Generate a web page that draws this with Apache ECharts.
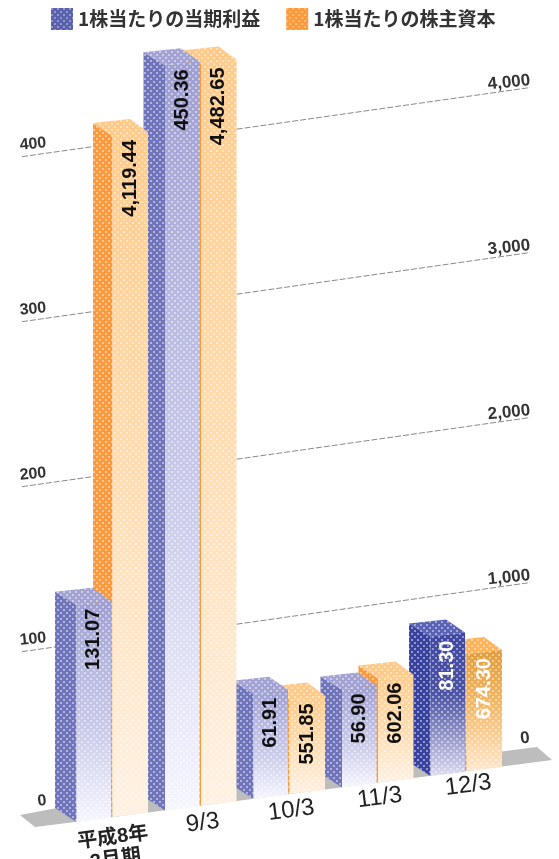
<!DOCTYPE html>
<html><head><meta charset="utf-8">
<style>html,body{margin:0;padding:0;background:#fff;overflow:hidden}#c{width:559px;height:859px;filter:blur(.75px)}</style>
<script src="https://cdn.jsdelivr.net/npm/echarts@6/dist/echarts.min.js"></script></head>
<body><div id="c"></div>
<script>
const categories = ['平成8年\n3月期','9/3','10/3','11/3','12/3'];
const profitName = '1株当たりの当期利益';
const equityName = '1株当たりの株主資本';
const profit = [131.07,450.36,61.91,56.90,81.30];
const equity = [4119.44,4482.65,551.85,602.06,674.30];
const profitLabels = ['131.07','450.36','61.91','56.90','81.30'];
const equityLabels = ['4,119.44','4,482.65','551.85','602.06','674.30'];
const leftTicks = [0,100,200,300,400];
const rightTicks = [0,1000,2000,3000,4000];
const rightTickLabels = ['0','1,000','2,000','3,000','4,000'];

const SLOPE = -0.142, BASE_SLOPE = -0.13, ORIGIN_X = 55, LATEST = 4;
const skew = x => SLOPE*(x-ORIGIN_X);
const skewBase = x => BASE_SLOPE*(x-ORIGIN_X);
function tile(base, dot, alpha){
  const c=document.createElement('canvas');c.width=c.height=6;
  const g=c.getContext('2d');
  if(base){g.fillStyle=base;g.fillRect(0,0,6,6);}
  g.fillStyle=dot;g.globalAlpha=alpha;
  g.fillRect(0,0,2,2);g.fillRect(3,3,2,2);
  return {image:c,repeat:'repeat'};
}
const dots = tile(null,'#ffffff',0.45);
const grad = stops => new echarts.graphic.LinearGradient(0,0,0,1,stops.map(c=>({offset:c[0],color:c[1]})));
const paint = {
  blue:{side:'#7075bb',top:'#a2a3d3',main:[[0,'#9d9ed1'],[.28,'#b6b7df'],[.62,'#cdceeb'],[1,'#f6f6ff']]},
  blueHi:{side:'#3a42a0',top:'#5a62b6',main:[[0,'#3f47a2'],[.42,'#4c53a4'],[.68,'#8a8dc3'],[1,'#dcdcf0']]},
  orange:{side:'#fb9a3c',top:'#ffca88',main:[[0,'#ffcb8a'],[.5,'#ffdcb0'],[1,'#fff1e2']]},
  orangeHi:{side:'#f09a35',top:'#ffb258',main:[[0,'#e29c3b'],[.45,'#f5b866'],[1,'#ffe7cc']]}
};
function barItem(kind, offset, sideW, mainW, labels){
  return function(params, api){
    const i=api.value(0), v=api.value(1);
    const top=api.coord([i,v]), zero=api.coord([i,0]);
    const band=api.size([1,0])[0];
    const x0=top[0]-band/2+offset;
    const yT=top[1]+skew(x0), yB=zero[1]+skewBase(x0);
    const x1=x0+sideW, x2=x1+mainW, x3=x0+37;
    const p=paint[kind+(i===LATEST?'Hi':'')];
    const z=1000-i*20+(kind==='blue'?5:0);
    const poly=(pts,fill,dz)=>({type:'polygon',z2:z+(dz||0),shape:{points:pts},style:{fill:fill}});
    const side=[[x0,yT],[x1,yT+13],[x1,yB+14],[x0,yB]];
    const main=[[x1,yT+13],[x2,yT+9],[x2,yB+10],[x1,yB+14]];
    const topF=[[x0,yT],[x3,yT-4],[x2,yT+9],[x1,yT+13]];
    const kids=[
      poly(side,p.side),poly(side,dots,1),
      poly(main,grad(p.main),1),poly(main,dots,2),
      poly(topF,p.top,1),poly(topF,dots,2),
      {type:'text',z2:z+3,x:(x1+x2)/2,y:yT+17,rotation:Math.PI/2,
       style:{text:labels[i],align:'right',verticalAlign:'middle',
       font:'bold 20px "Liberation Sans Narrow","Liberation Sans",sans-serif',
       fill:i===LATEST?'#fff':'#111'}}
    ];
    return {type:'group',children:kids};
  };
}
function tickItem(x1,x2,labelX,labels,dyLabel,zeroX,lineOff,font){
  return function(params,api){
    const v=api.value(0), y=api.coord([0,v])[1];
    const lx=v===0?zeroX:labelX;
    const kids=[{type:'text',z2:1,x:lx,y:y+skew(lx)+(v===0?dyLabel-2:dyLabel),rotation:.1,
      style:{text:labels[params.dataIndex],align:'center',verticalAlign:'middle',font:font,fill:'#333'}}];
    if(v!==0) kids.push({type:'line',z2:0,shape:{x1:x1,y1:y+skew(x1)+lineOff,x2:x2,y2:y+skew(x2)+lineOff},
      style:{stroke:'#8a8a8a',lineWidth:1,lineDash:[6,2]}});
    return {type:'group',children:kids};
  };
}
function floorItem(params,api){
  const o=api.coord([0,0])[1];
  return {type:'polygon',z2:0,shape:{points:[[20,o+7],[57,o],[537,o-61],[552,o-48],[75,o+14],[35,o+19]]},style:{fill:'#bdbdbd'}};
}
function catItem(params,api){
  const i=api.value(0), p=api.coord([i,0]);
  const x=p[0]+15;
  return {type:'text',z2:1100,x:x,y:p[1]+skew(x)+(i===0?49:36),rotation:.13,
    style:{text:categories[i],align:'center',verticalAlign:'middle',lineHeight:22,
    font:(i===0?'bold 20px':'24px')+' "Liberation Sans","Noto Sans CJK JP",sans-serif',fill:'#222'}};
}
const chart=echarts.init(document.getElementById('c'),null,{renderer:'canvas'});
chart.setOption({
  animation:false,backgroundColor:'#fff',
  grid:{left:55,right:61.5,top:16,bottom:51},
  legend:{left:46,top:3,itemWidth:22,itemHeight:22,itemGap:26,icon:'rect',
    data:[profitName,equityName],
    textStyle:{fontSize:19,fontWeight:'bold',color:'#333',fontFamily:'"Noto Sans CJK JP",sans-serif'}},
  xAxis:{type:'category',data:categories,show:false},
  yAxis:[{type:'value',min:0,max:480,interval:120,show:false,splitLine:{show:false}},
         {type:'value',min:0,max:4800,interval:1200,show:false,splitLine:{show:false}}],
  series:[
    {type:'custom',name:'floor',silent:true,data:[0],encode:{y:0},renderItem:floorItem,coordinateSystem:'cartesian2d'},
    {type:'custom',name:'left',silent:true,data:leftTicks.map(v=>[v]),renderItem:tickItem(22,105,33,leftTicks.map(String),-7,42,4,'bold 16px "Liberation Sans",sans-serif'),yAxisIndex:0,encode:{y:0}},
    {type:'custom',name:'right',silent:true,data:rightTicks.map(v=>[v]),renderItem:tickItem(205,530,509,rightTickLabels,-1,525,7,'bold 17px "Liberation Sans",sans-serif'),yAxisIndex:1,encode:{y:0}},
    {type:'custom',name:profitName,data:profit.map((v,i)=>[i,v]),encode:{x:0,y:1},yAxisIndex:0,
      itemStyle:{color:tile('#5a62b0','#ffffff',.35)},renderItem:barItem('blue',0,21.5,34.5,profitLabels)},
    {type:'custom',name:equityName,data:equity.map((v,i)=>[i,v]),encode:{x:0,y:1},yAxisIndex:1,
      itemStyle:{color:tile('#fb9a3c','#ffe9b0',.45)},renderItem:barItem('orange',38,19.5,35.5,equityLabels)},
    {type:'custom',name:'cats',silent:true,data:categories.map((c,i)=>[i]),encode:{x:0},renderItem:catItem}
  ]
});
</script></body></html>
